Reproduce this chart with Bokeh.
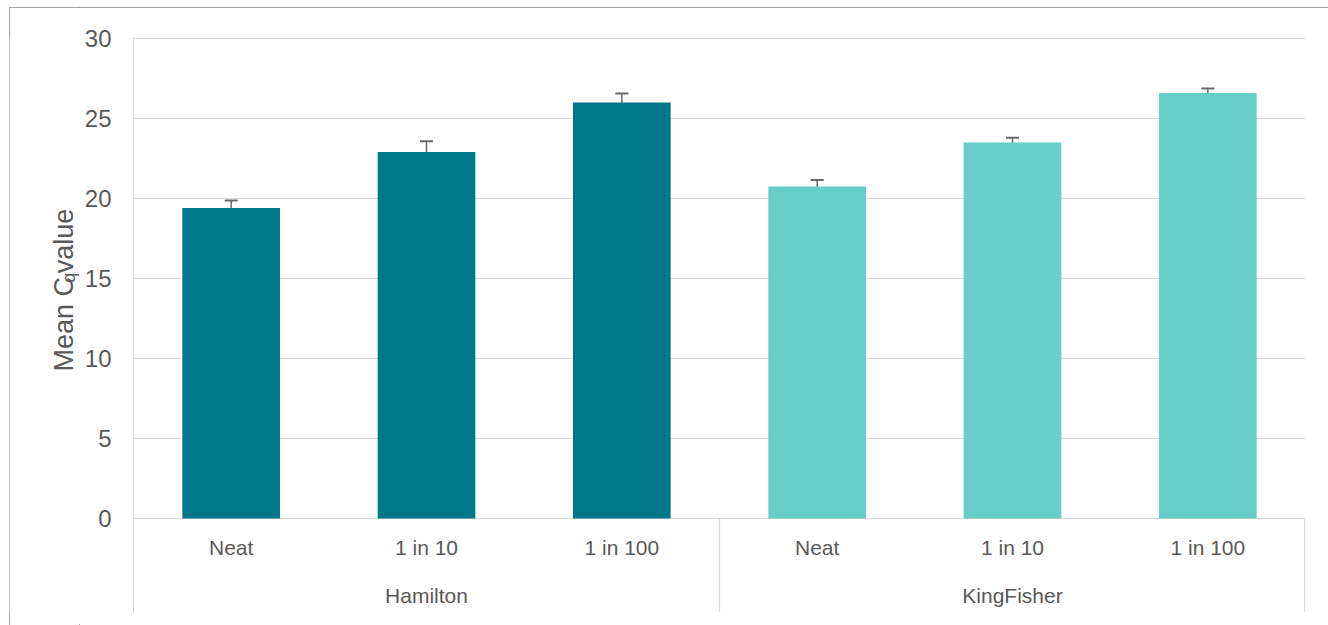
from bokeh.plotting import figure
from bokeh.layouts import row
from bokeh.models import (ColumnDataSource, FactorRange, Range1d, FixedTicker,
                          Whisker, TeeHead)
from bokeh.core.properties import value
from bokeh.embed import file_html
from bokeh.resources import INLINE

# ---- data ----
groups = ["Hamilton", "KingFisher"]
dilutions = ["Neat", "1 in 10", "1 in 100"]
hamilton_mean = [19.4, 22.9, 26.0]
hamilton_err = [0.48, 0.68, 0.57]
kingfisher_mean = [20.75, 23.5, 26.6]
kingfisher_err = [0.4, 0.3, 0.28]
group_colors = ["#00788A", "#66CDC8"]
y_ticks = [0, 5, 10, 15, 20, 25, 30]
y_title = ["Mean C", "q", " value"]   # "q" is a subscript

FONT = "Liberation Sans"
TXT = "#595959"
GRID = "#d9d9d9"

factors = [(g, d) for g in groups for d in dilutions]
means = hamilton_mean + kingfisher_mean
errs = hamilton_err + kingfisher_err
colors = [group_colors[0]] * len(dilutions) + [group_colors[1]] * len(dilutions)

src = ColumnDataSource(dict(
    x=factors, top=means,
    upper=[m + e for m, e in zip(means, errs)],
    lower=[m - e for m, e in zip(means, errs)],
    color=colors,
))

H = 618
WL = 70
WTOT = 1319

# ---- narrow panel holding the rotated y-axis title ----
lab = figure(width=WL, height=H, output_backend="svg", toolbar_location=None,
             x_range=Range1d(0, WL), y_range=Range1d(0, H),
             x_axis_location=None, y_axis_location=None,
             min_border=0, min_border_left=0, min_border_right=0,
             min_border_top=0, min_border_bottom=0)
lab.outline_line_color = None
lab.grid.visible = False
fs = 27
sub_fs = 18
y0 = 259
w1 = 3.501 * fs + 1
w2 = 0.556 * sub_fs
for txt, yy, xx, size in [(y_title[0], y0, 54, fs),
                          (y_title[1], y0 + w1, 59, sub_fs),
                          (y_title[2], y0 + w1 + w2, 54, fs)]:
    lab.text(x=[xx], y=[yy], text=[txt], angle=1.5707963,
             text_font=value(FONT), text_font_size=f"{size}px",
             text_color=TXT, text_align="left", text_baseline="alphabetic")

# ---- main chart ----
y_start = -5.875
y_end = 30.0625

p = figure(width=WTOT - WL, height=H, output_backend="svg", toolbar_location=None,
           x_range=FactorRange(factors=factors, range_padding=0, group_padding=0,
                               factor_padding=0, subgroup_padding=0),
           y_range=Range1d(y_start, y_end), x_axis_location=None,
           min_border_left=124 - WL, min_border_right=23, min_border_top=30,
           min_border_bottom=13)
p.outline_line_color = None
p.xgrid.visible = False
p.ygrid.ticker = FixedTicker(ticks=y_ticks)
p.ygrid.grid_line_color = GRID
p.ygrid.grid_line_width = 1

ya = p.yaxis[0]
ya.ticker = FixedTicker(ticks=y_ticks)
ya.axis_line_color = GRID
ya.major_tick_line_color = None
ya.minor_tick_line_color = None
ya.major_label_standoff = 16
ya.major_label_text_font = FONT
ya.major_label_text_font_size = "24px"
ya.major_label_text_color = TXT

p.vbar(x="x", top="top", width=0.5, source=src, fill_color="color",
       line_color=None)

ecol = "#6a6a6a"
w = Whisker(base="x", upper="upper", lower="lower", source=src,
            line_color=ecol, line_width=1.5,
            upper_head=TeeHead(size=13, line_color=ecol, line_width=2),
            lower_head=TeeHead(size=13, line_color=ecol, line_width=2))
p.add_layout(w)

# category separators below the zero line
n = len(dilutions)
bounds = [n * i for i in range(len(groups) + 1)]
bounds[-1] = bounds[-1] - 0.004
p.segment(x0=bounds[1:], y0=[y_start] * (len(bounds) - 1),
          x1=bounds[1:], y1=[0] * (len(bounds) - 1),
          line_color=GRID, line_width=1.2)

# category labels
p.text(x=factors, y=[-1.81] * len(factors), text=[f[1] for f in factors],
       text_font=value(FONT), text_font_size="21px", text_color=TXT,
       text_align="center", text_baseline="middle")
p.text(x=groups, y=[-4.81] * len(groups), text=groups,
       text_font=value(FONT), text_font_size="21px", text_color=TXT,
       text_align="center", text_baseline="middle")

layout = row(lab, p, spacing=0)
layout.styles = {"margin-left": "9px", "margin-top": "7px",
                 "outline": "1px solid #8a8a8a", "outline-offset": "-1px"}

open("out.html", "w").write(file_html(layout, INLINE))
